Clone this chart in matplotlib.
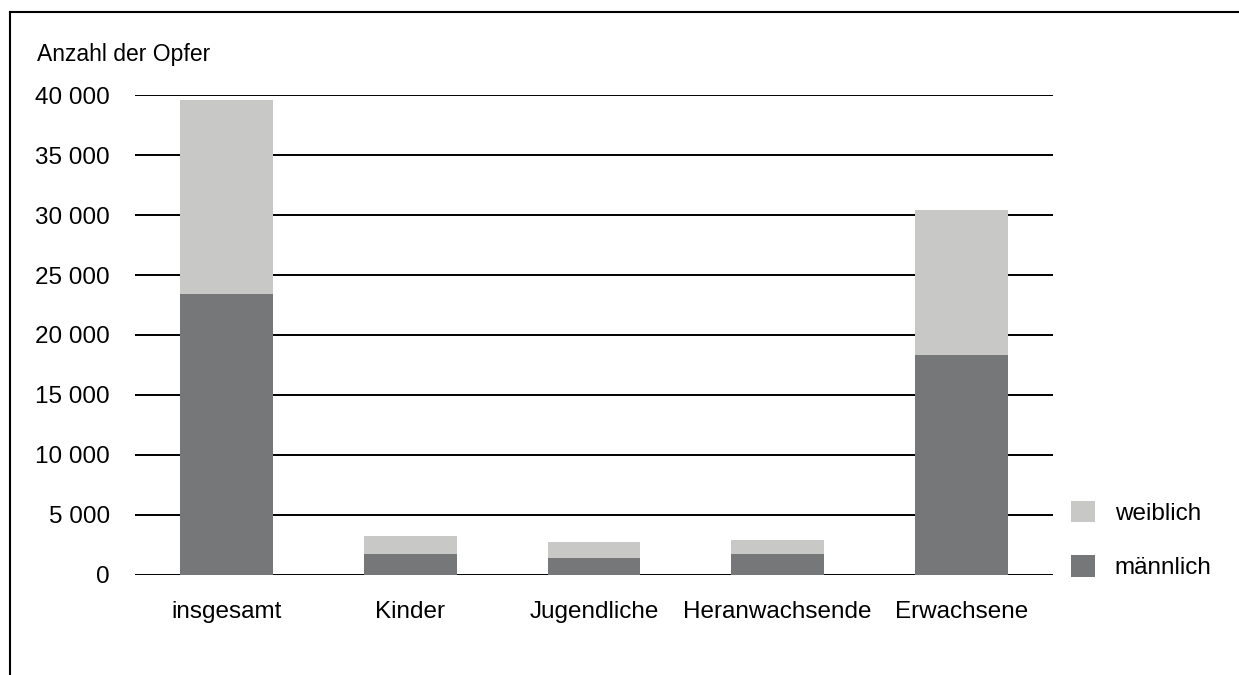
import numpy as np
import matplotlib.pyplot as plt
from matplotlib.lines import Line2D

plt.rcParams['font.family'] = ['Liberation Sans', 'DejaVu Sans']

# Opfer nach Altersgruppe und Geschlecht
gruppen = ["insgesamt", "Kinder", "Jugendliche", "Heranwachsende", "Erwachsene"]
maennlich = [23400, 1740, 1400, 1740, 18320]
weiblich = [16180, 1500, 1340, 1160, 12110]
yticks = [0, 5000, 10000, 15000, 20000, 25000, 30000, 35000, 40000]
ytick_labels = ["0", "5 000", "10 000", "15 000", "20 000", "25 000", "30 000", "35 000", "40 000"]

hell = "#c8c8c6"
dunkel = "#767779"

fig = plt.figure(figsize=(12.39, 6.75), dpi=100)
ax = fig.add_axes([135/1239, 1 - 574.5/675, (1053 - 135)/1239, (574.5 - 95.3)/675])

x = np.arange(len(gruppen))
b1 = ax.bar(x, maennlich, width=0.505, color=dunkel, zorder=3, label="männlich")
b2 = ax.bar(x, weiblich, bottom=maennlich, width=0.505, color=hell, zorder=3, label="weiblich")

ax.set_xlim(-0.5, 4.5)
ax.set_ylim(0, 40000)
ax.set_yticks(yticks)
ax.set_yticklabels(ytick_labels, fontsize=17.5)
ax.set_xticks(x)
ax.set_xticklabels(gruppen, fontsize=17.5)
ax.tick_params(axis="y", length=0, pad=18)
ax.tick_params(axis="x", length=0, pad=19)
ax.grid(axis="y", color="black", linewidth=1.4, zorder=1)
for s in ax.spines.values():
    s.set_visible(False)

fig.text(37/1239, 1 - 54/675, "Anzahl der Opfer", fontsize=16.5, va="center", ha="left")

fig.legend([b2, b1], ["weiblich", "männlich"], loc="center left",
           bbox_to_anchor=(1049/1239, 1 - 540/675), frameon=False, fontsize=17.5,
           handlelength=1.0, handleheight=1.0, handletextpad=0.8, labelspacing=1.25)

# Rahmen oben und links
fig.add_artist(Line2D([10/1239, 1], [1 - 12/675, 1 - 12/675], color="black", linewidth=1.5))
fig.add_artist(Line2D([10/1239, 10/1239], [0, 1 - 12/675], color="black", linewidth=1.5))

fig.savefig("out.png", dpi=100)
